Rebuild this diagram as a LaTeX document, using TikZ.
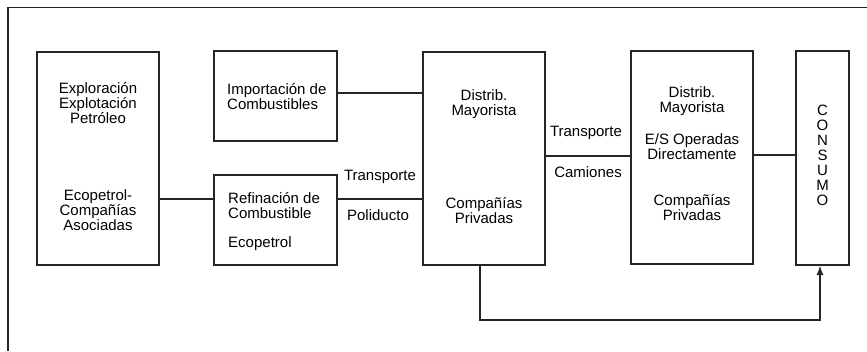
\documentclass[tikz,border=0pt]{standalone}
\usepackage{fontspec}
\setmainfont{Liberation Sans}
\usetikzlibrary{arrows.meta}
\tikzset{
  caja/.style={draw=black!85,line width=1.1pt,minimum width=#1},
  texto/.style={align=center,font=\fontsize{12.8}{12.8}\selectfont,inner sep=0pt},
  linea/.style={draw=black!85,line width=1.1pt}
}
\begin{document}
\begin{tikzpicture}[x=0.03cm,y=-0.03cm]
\useasboundingbox (0,0) rectangle (867,351);
\draw[line width=0.9pt,black!85] (8,351)--(8,7.5)--(867,7.5);
% cajas
\node[caja=122*0.03cm,minimum height=213*0.03cm] (exp) at (98,158.5) {};
\node[caja=123*0.03cm,minimum height=90*0.03cm] (imp) at (275.5,96) {};
\node[caja=123*0.03cm,minimum height=90*0.03cm] (ref) at (275.5,220) {};
\node[caja=122*0.03cm,minimum height=213*0.03cm] (dist) at (484,158.5) {};
\node[caja=122*0.03cm,minimum height=213*0.03cm] (may) at (692,157.5) {};
\node[caja=53*0.03cm,minimum height=214*0.03cm] (con) at (822.5,158) {};
% textos
\node[texto] (exp1) at (98,103) {Exploración\\Explotación\\Petróleo};
\node[texto] (exp2) at (98,210) {Ecopetrol-\\Compañías\\Asociadas};
\node[texto,align=left,anchor=west] (imp1) at (227,96.5) {Importación de\\Combustibles};
\node[texto,align=left,anchor=west] (ref1) at (228,205.5) {Refinación de\\Combustible};
\node[texto,anchor=west] (ref2) at (228,244) {Ecopetrol};
\node[texto] (dist1) at (484,104) {Distrib.\\Mayorista};
\node[texto] (dist2) at (484,210.5) {Compañías\\Privadas};
\node[texto] (may1) at (692,101.5) {Distrib.\\Mayorista};
\node[texto] (may2) at (692,147) {E/S Operadas\\Directamente};
\node[texto] (may3) at (692,208) {Compañías\\Privadas};
\node[texto] (con1) at (822.5,155) {C\\O\\N\\S\\U\\M\\O};
\node[texto] (tr1) at (380,177) {Transporte};
\node[texto] (pol) at (378,215) {Poliducto};
\node[texto] (tr2) at (586,133) {Transporte};
\node[texto] (cam) at (588,172) {Camiones};
% conexiones
\coordinate (y1) at (0,199);
\coordinate (y2) at (0,93);
\coordinate (bot) at (0,320);
\draw[linea] (exp.east|-y1)--(ref.west|-y1);
\draw[linea] (ref.east|-y1)--(dist.west|-y1);
\draw[linea] (imp.east|-y2)--(dist.west|-y2);
\draw[linea] (dist.east|-0,156)--(may.west|-0,156);
\draw[linea] (may.east|-0,155)--(con.west|-0,155);
\draw[linea,-{Latex[length=8pt,width=6pt]}] ([xshift=-0.12cm]dist.south)--([xshift=-0.12cm]dist.south|-bot)--([xshift=-0.075cm]con.south|-bot)--([xshift=-0.075cm]con.south);
\end{tikzpicture}
\end{document}
